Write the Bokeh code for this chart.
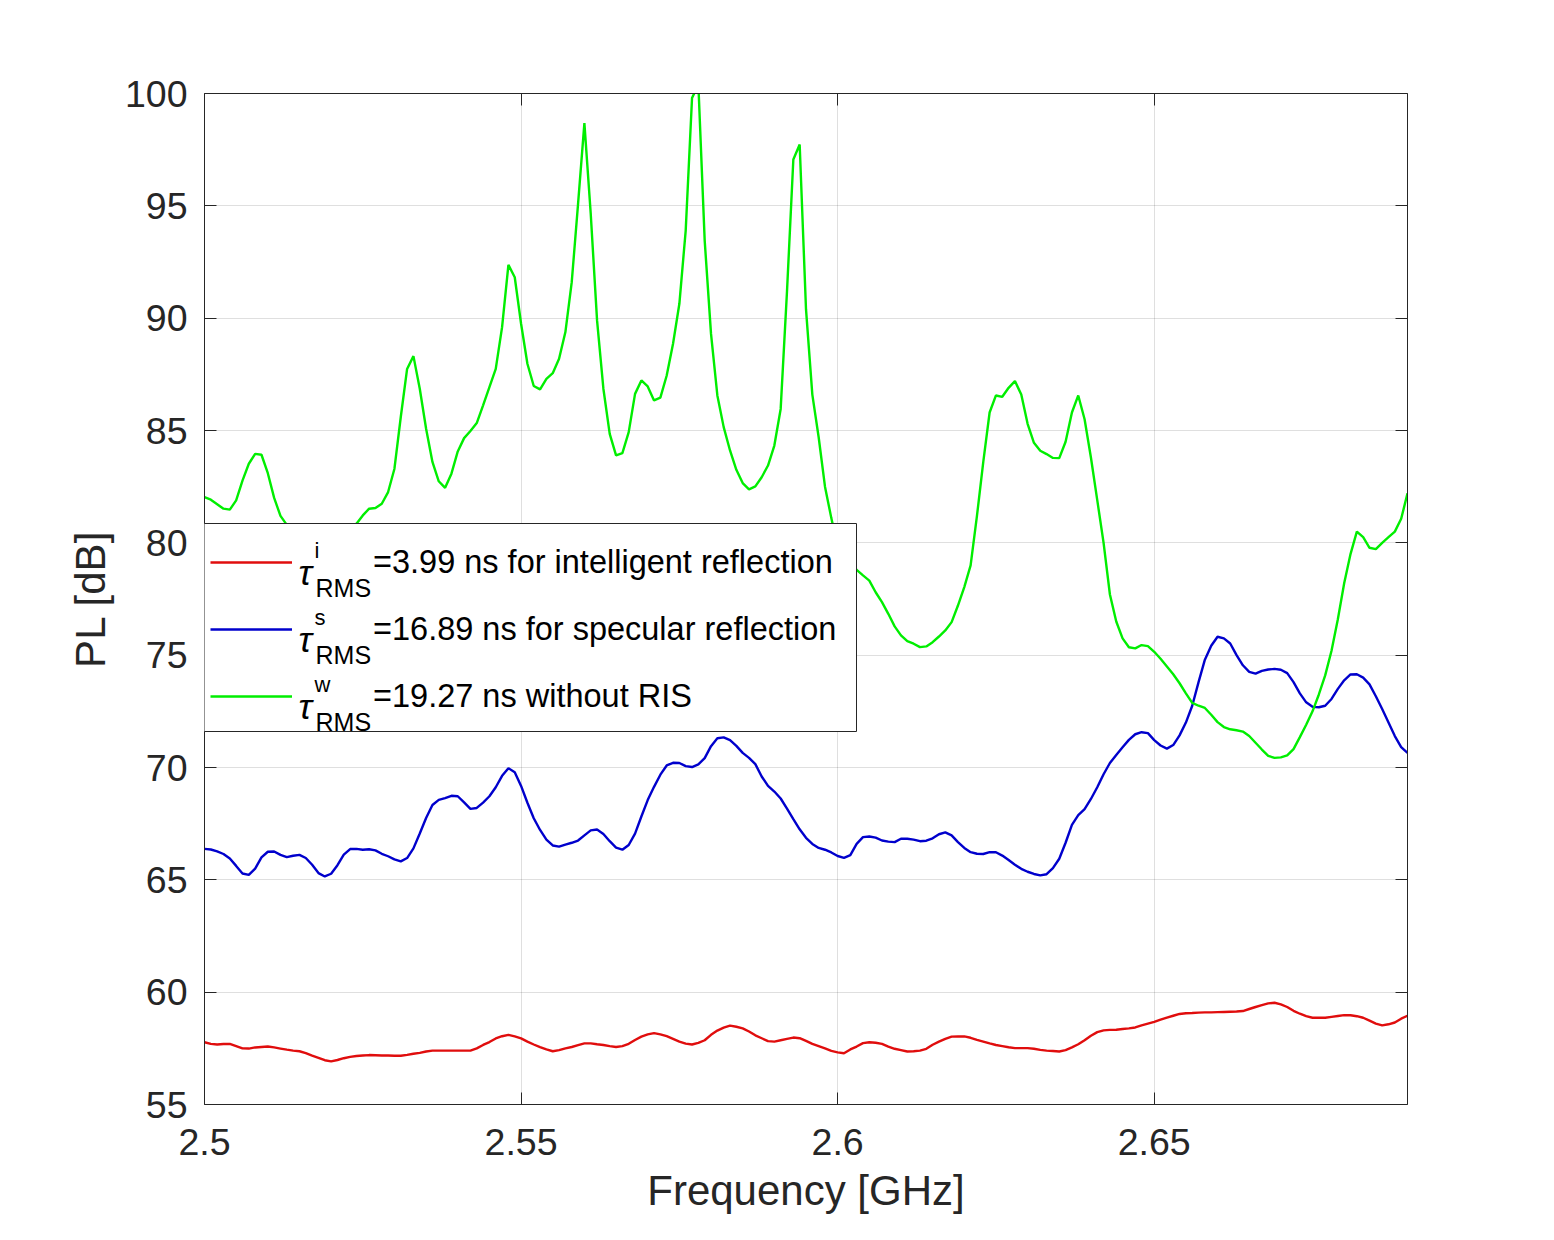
from bokeh.plotting import figure
from bokeh.models import Range1d, LinearAxis, FixedTicker, Legend, LegendItem, Label, BoxAnnotation
from bokeh.embed import file_html
from bokeh.resources import INLINE

# ---------------- data ----------------
freq = [round(2.5 + 0.001 * i, 3) for i in range(191)]

pl_intelligent = [
    57.77, 57.70, 57.67, 57.69, 57.70, 57.60, 57.50, 57.49, 57.54, 57.56,
    57.58, 57.54, 57.49, 57.44, 57.40, 57.37, 57.29, 57.18, 57.08, 56.97,
    56.92, 56.98, 57.06, 57.12, 57.16, 57.18, 57.20, 57.19, 57.18, 57.18,
    57.17, 57.17, 57.21, 57.26, 57.30, 57.36, 57.40, 57.40, 57.40, 57.40,
    57.40, 57.40, 57.40, 57.50, 57.65, 57.78, 57.94, 58.04, 58.10, 58.03,
    57.94, 57.80, 57.67, 57.55, 57.45, 57.37, 57.42, 57.50, 57.56, 57.64,
    57.72, 57.72, 57.68, 57.65, 57.60, 57.56, 57.60, 57.70, 57.87, 58.02,
    58.12, 58.18, 58.12, 58.04, 57.92, 57.80, 57.71, 57.67, 57.74, 57.86,
    58.10, 58.29, 58.42, 58.51, 58.46, 58.39, 58.25, 58.08, 57.95, 57.82,
    57.80, 57.86, 57.92, 57.98, 57.95, 57.83, 57.70, 57.60, 57.50, 57.39,
    57.32, 57.28, 57.45, 57.58, 57.73, 57.77, 57.75, 57.70, 57.58, 57.48,
    57.42, 57.36, 57.37, 57.40, 57.48, 57.66, 57.80, 57.92, 58.02, 58.03,
    58.03, 57.97, 57.88, 57.80, 57.72, 57.65, 57.60, 57.55, 57.51, 57.51,
    57.51, 57.48, 57.43, 57.40, 57.38, 57.36, 57.42, 57.54, 57.68, 57.86,
    58.06, 58.22, 58.30, 58.32, 58.33, 58.36, 58.39, 58.43, 58.52, 58.60,
    58.68, 58.78, 58.87, 58.95, 59.03, 59.06, 59.07, 59.09, 59.10, 59.10,
    59.11, 59.12, 59.13, 59.14, 59.16, 59.25, 59.34, 59.42, 59.50, 59.53,
    59.46, 59.34, 59.17, 59.04, 58.93, 58.86, 58.86, 58.86, 58.90, 58.94,
    58.98, 58.97, 58.93, 58.86, 58.73, 58.60, 58.52, 58.57, 58.65, 58.82,
    58.95,
]

pl_specular = [
    66.38, 66.35, 66.27, 66.15, 65.95, 65.62, 65.28, 65.22, 65.50, 66.00,
    66.25, 66.26, 66.11, 66.01, 66.07, 66.11, 65.97, 65.67, 65.30, 65.15,
    65.27, 65.65, 66.12, 66.37, 66.38, 66.34, 66.36, 66.31, 66.16, 66.05,
    65.91, 65.82, 65.97, 66.40, 67.06, 67.75, 68.33, 68.56, 68.64, 68.74,
    68.72, 68.45, 68.16, 68.20, 68.44, 68.72, 69.12, 69.63, 69.97, 69.79,
    69.18, 68.43, 67.74, 67.22, 66.79, 66.53, 66.48, 66.57, 66.65, 66.75,
    66.98, 67.20, 67.24, 67.04, 66.72, 66.43, 66.34, 66.55, 67.06, 67.82,
    68.55, 69.14, 69.68, 70.09, 70.21, 70.20, 70.06, 70.02, 70.14, 70.42,
    70.95, 71.30, 71.34, 71.22, 70.96, 70.65, 70.43, 70.15, 69.60, 69.18,
    68.93, 68.62, 68.17, 67.70, 67.25, 66.87, 66.60, 66.42, 66.34, 66.22,
    66.06, 65.98, 66.10, 66.60, 66.90, 66.93, 66.88, 66.75, 66.70, 66.68,
    66.83, 66.83, 66.79, 66.72, 66.74, 66.85, 67.03, 67.11, 66.98, 66.68,
    66.42, 66.23, 66.16, 66.15, 66.23, 66.23, 66.08, 65.88, 65.67, 65.49,
    65.36, 65.26, 65.20, 65.25, 65.52, 65.94, 66.65, 67.45, 67.88, 68.15,
    68.60, 69.12, 69.70, 70.20, 70.56, 70.90, 71.23, 71.48, 71.57, 71.53,
    71.22, 70.98, 70.84, 71.00, 71.43, 72.00, 72.75, 73.80, 74.80, 75.42,
    75.82, 75.75, 75.52, 75.00, 74.55, 74.26, 74.18, 74.30, 74.36, 74.39,
    74.35, 74.20, 73.80, 73.30, 72.90, 72.70, 72.68, 72.75, 73.05, 73.50,
    73.88, 74.14, 74.15, 74.00, 73.70, 73.17, 72.60, 72.00, 71.40, 70.91,
    70.65,
]

pl_without = [
    82.03, 81.92, 81.72, 81.52, 81.48, 81.89, 82.77, 83.52, 83.96, 83.92,
    83.10, 82.00, 81.20, 80.80, 80.40, 80.00, 79.70, 79.50, 79.40, 79.50,
    79.70, 80.00, 80.30, 80.60, 80.85, 81.22, 81.52, 81.55, 81.74, 82.26,
    83.30, 85.60, 87.74, 88.31, 86.86, 85.08, 83.60, 82.74, 82.45, 83.08,
    84.07, 84.66, 84.98, 85.33, 86.12, 86.93, 87.74, 89.60, 92.37, 91.82,
    89.75, 87.97, 86.98, 86.83, 87.30, 87.55, 88.19, 89.38, 91.60, 95.09,
    98.68, 94.65, 89.90, 86.86, 84.85, 83.89, 83.99, 84.93, 86.63, 87.23,
    86.96, 86.34, 86.46, 87.45, 88.86, 90.64, 93.90, 99.80, 100.40, 93.45,
    89.30, 86.56, 85.15, 84.11, 83.25, 82.66, 82.38, 82.51, 82.92, 83.44,
    84.33, 85.96, 91.20, 97.06, 97.73, 90.40, 86.60, 84.70, 82.50, 81.10,
    79.80, 79.30, 79.00, 78.80, 78.55, 78.32, 77.80, 77.36, 76.84, 76.28,
    75.88, 75.62, 75.51, 75.36, 75.39, 75.58, 75.83, 76.10, 76.47, 77.21,
    78.03, 79.00, 81.20, 83.60, 85.80, 86.56, 86.50, 86.90, 87.20, 86.60,
    85.30, 84.45, 84.10, 83.95, 83.78, 83.77, 84.50, 85.80, 86.56, 85.50,
    83.80, 81.90, 80.00, 77.70, 76.50, 75.75, 75.35, 75.30, 75.45, 75.40,
    75.15, 74.84, 74.50, 74.15, 73.75, 73.30, 72.88, 72.75, 72.65, 72.35,
    72.02, 71.80, 71.70, 71.66, 71.60, 71.40, 71.10, 70.80, 70.52, 70.43,
    70.45, 70.54, 70.82, 71.35, 71.90, 72.50, 73.25, 74.10, 75.20, 76.60,
    78.20, 79.50, 80.50, 80.25, 79.78, 79.72, 80.00, 80.25, 80.50, 81.07,
    82.20,
]

x_ticks = [2.5, 2.55, 2.6, 2.65]
x_tick_labels = ["2.5", "2.55", "2.6", "2.65"]
y_ticks = [55, 60, 65, 70, 75, 80, 85, 90, 95, 100]

legend_texts = ["=3.99 ns for intelligent reflection",
                "=16.89 ns for specular reflection",
                "=19.27 ns without RIS"]
legend_sups = ["i", "s", "w"]
legend_sub = "RMS"
legend_symbol = "\u03c4"

x_label = "Frequency [GHz]"
y_label = "PL [dB]"

# ---------------- style / layout ----------------
W, H = 1546, 1232
FL, FR, FT, FB = 204, 1407, 93, 1104   # frame edges in canvas px
XMIN, XMAX, YMIN, YMAX = 2.5, 2.69, 55, 100
FONT = "Liberation Sans"
AX_COLOR = "#262626"
COLORS = ["#e00d0d", "#0000cc", "#00ee00"]


def to_data(cx, cy):
    """canvas pixel -> data coordinates"""
    x = XMIN + (cx - FL) * (XMAX - XMIN) / (FR - FL)
    y = YMAX - (cy - FT) * (YMAX - YMIN) / (FB - FT)
    return x, y


p = figure(width=W, height=H, title=None,
           x_range=Range1d(XMIN, XMAX), y_range=Range1d(YMIN, YMAX),
           output_backend="svg", toolbar_location=None,
           min_border_left=FL, min_border_right=W - FR,
           min_border_top=FT, min_border_bottom=H - FB)
p.outline_line_color = None
p.background_fill_color = "white"
p.border_fill_color = "white"

top_axis = LinearAxis()
right_axis = LinearAxis()
p.add_layout(top_axis, "above")
p.add_layout(right_axis, "right")


def style_axis(ax, ticks, show_labels):
    ax.ticker = FixedTicker(ticks=ticks)
    ax.axis_line_color = AX_COLOR
    ax.axis_line_width = 1
    ax.major_tick_line_color = AX_COLOR
    ax.major_tick_line_width = 1
    ax.major_tick_in = 12
    ax.major_tick_out = 0
    ax.minor_tick_line_color = None
    ax.major_label_text_font = FONT
    if show_labels:
        ax.major_label_text_font_size = "37.5px"
        ax.major_label_text_color = AX_COLOR
    else:
        ax.major_label_text_font_size = "0px"
        ax.major_label_text_color = None
        ax.major_label_standoff = 0


bottom_axis = p.below[0]
left_axis = p.left[0]
style_axis(bottom_axis, x_ticks, True)
style_axis(left_axis, y_ticks, True)
style_axis(top_axis, x_ticks, False)
style_axis(right_axis, y_ticks, False)

bottom_axis.major_label_overrides = {t: s for t, s in zip(x_ticks, x_tick_labels)}
bottom_axis.major_label_standoff = 24
left_axis.major_label_standoff = 17

for ax, lab, stand in ((bottom_axis, x_label, 9), (left_axis, y_label, 8)):
    ax.axis_label = lab
    ax.axis_label_text_font = FONT
    ax.axis_label_text_font_size = "42px"
    ax.axis_label_text_font_style = "normal"
    ax.axis_label_text_color = AX_COLOR
    ax.axis_label_standoff = stand

p.xgrid.ticker = FixedTicker(ticks=x_ticks)
p.ygrid.ticker = FixedTicker(ticks=y_ticks)
p.grid.grid_line_color = AX_COLOR
p.grid.grid_line_alpha = 0.15
p.grid.grid_line_width = 1

renderers = []
for series, col in zip((pl_intelligent, pl_specular, pl_without), COLORS):
    renderers.append(p.line(freq, series, line_color=col, line_width=2.4))

# legend frame (white box hiding the lines underneath)
bl, bt = to_data(203, 523)
br, bb = to_data(856, 731)
p.add_layout(BoxAnnotation(left=bl, right=br, top=bt, bottom=bb,
                           fill_color="white", fill_alpha=1.0,
                           line_color=AX_COLOR, line_width=1, line_alpha=1.0))

legend = Legend(
    items=[LegendItem(label=t, renderers=[r]) for t, r in zip(legend_texts, renderers)],
    location=(-2, 371), margin=0, padding=8, spacing=9,
    glyph_width=82, glyph_height=58, label_height=58, label_width=475,
    label_standoff=81,
    label_text_font=FONT, label_text_font_size="32.5px", label_text_color="black",
    border_line_color=AX_COLOR, border_line_alpha=0.0, background_fill_alpha=0.0,
)
p.add_layout(legend)

# tau with super/subscripts, placed per legend row (canvas px)
for i, sup in enumerate(legend_sups):
    dy = 67 * i
    tx, ty = to_data(298, 572 + dy)
    p.add_layout(Label(x=tx, y=ty, text=legend_symbol, text_font=FONT,
                       text_font_size="36px", text_font_style="italic",
                       text_color="black", text_baseline="alphabetic",
                       text_align="left"))
    sx, sy = to_data(314, 550 + dy)
    p.add_layout(Label(x=sx, y=sy, text=sup, text_font=FONT,
                       text_font_size="22px", text_color="black",
                       text_baseline="alphabetic", text_align="left"))
    bx, by = to_data(315, 587 + dy)
    p.add_layout(Label(x=bx, y=by, text=legend_sub, text_font=FONT,
                       text_font_size="25px", text_color="black",
                       text_baseline="alphabetic", text_align="left"))

open("out.html", "w").write(file_html(p, INLINE))
